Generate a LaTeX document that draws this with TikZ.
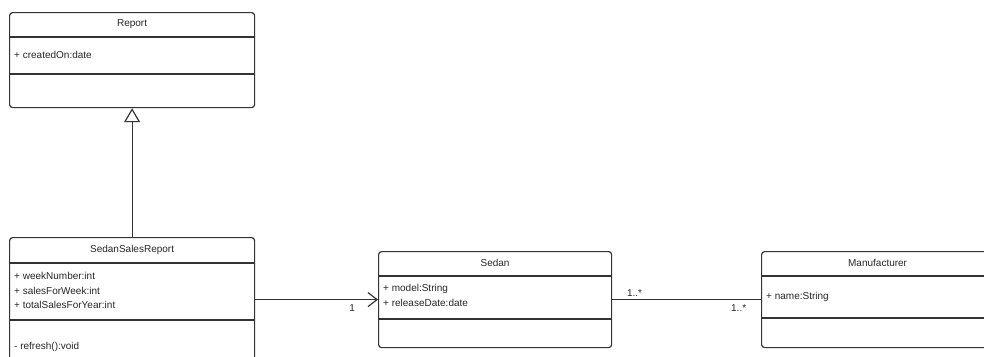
\documentclass[tikz,border=0pt]{standalone}
\usepackage{fontspec}
\setmainfont{Liberation Sans}
\usetikzlibrary{arrows.meta}

\begin{document}
\begin{tikzpicture}[x=1pt,y=-1pt,
		cls/.style={draw=black!80, rounded corners=3pt, line width=1.2pt, anchor=north west, inner sep=0pt},
		txt/.style={anchor=west, inner sep=0pt, text=black!85, font=\fontsize{10}{12}\selectfont},
		ttl/.style={inner sep=0pt, text=black!85, font=\fontsize{10}{12}\selectfont},
		lnk/.style={draw=black!80, line width=1.2pt}]
		\useasboundingbox (0,0) rectangle (984,356);
		\clip (0,0) rectangle (984,356);
		
		% class boxes
		\node[cls, minimum width=245pt, minimum height=95pt] (report) at (9,12) {};
		\node[cls, minimum width=245pt, minimum height=135pt] (ssr) at (9,237) {};
		\node[cls, minimum width=233pt, minimum height=96pt] (sedan) at (378,251) {};
		\node[cls, minimum width=232pt, minimum height=96pt] (manu) at (761,251) {};
		
		% compartments
		\draw[lnk] (report.west |- 0,37) -- (report.east |- 0,37);
		\draw[lnk] (report.west |- 0,74) -- (report.east |- 0,74);
		\draw[lnk] (ssr.west |- 0,263) -- (ssr.east |- 0,263);
		\draw[lnk] (ssr.west |- 0,320) -- (ssr.east |- 0,320);
		\draw[lnk] (sedan.west |- 0,276) -- (sedan.east |- 0,276);
		\draw[lnk] (sedan.west |- 0,319) -- (sedan.east |- 0,319);
		\draw[lnk] (manu.west |- 0,276) -- (manu.east |- 0,276);
		\draw[lnk] (manu.west |- 0,318) -- (manu.east |- 0,318);
		
		% names
		\node[ttl] (reportname) at (report.north |- 0,24) {Report};
		\node[ttl] (ssrname) at (ssr.north |- 0,250) {SedanSalesReport};
		\node[ttl] (sedanname) at (sedan.north |- 0,263) {Sedan};
		\node[ttl] (maname) at (manu.north |- 0,263) {Manufacturer};
		
		% members
		\node[txt] (createdon) at (14,55) {+ createdOn:date};
		\foreach \y/\t [count=\i] in {276/weekNumber:int, 290.5/salesForWeek:int, 305/totalSalesForYear:int}{
			\node[txt] (ssrattr\i) at (14,\y) {+ \t};
		}
		\node[txt] (refresh) at (14,347) {- refresh():void};
		\node[txt] (model) at (383,289) {+ model:String};
		\node[txt] (release) at (383,303) {+ releaseDate:date};
		\node[txt] (name) at (766,297) {+ name:String};
		
		% relations
		\draw[lnk, -{Triangle[open, length=14pt, width=16pt]}] (ssr.north) -- (report.south);
		\draw[lnk, -{Straight Barb[length=9pt, width=14pt]}] (ssr.east |- sedan.west) -- (sedan.west)
			node[ttl, pos=0.79, below=4pt] (one) {1};
		\draw[lnk] (sedan.east) -- (manu.west)
			node[ttl, pos=0.15, above=3pt] (manyl) {1..*}
			node[ttl, pos=0.85, below=4pt] (manyr) {1..*};
	\end{tikzpicture}
\end{document}
